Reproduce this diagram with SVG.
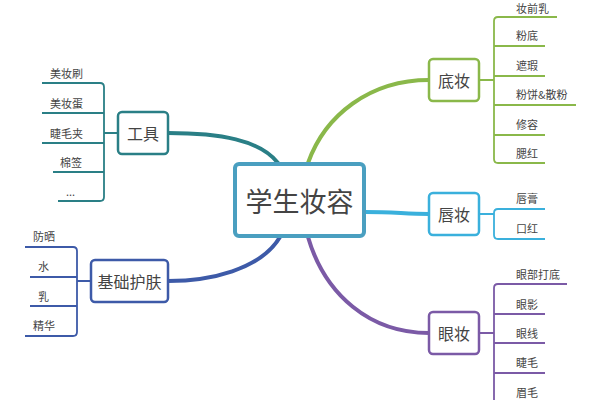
<svg xmlns="http://www.w3.org/2000/svg" width="600" height="400" viewBox="0 0 600 400">
<style>
text{font-family:"Noto Sans CJK SC","Noto Sans",sans-serif;fill:#444}
.leaf{font-size:11px}
.node{font-size:16px;text-anchor:middle;dominant-baseline:central}
.box{fill:#fff;stroke-width:2.5}
.br{fill:none;stroke-width:1.8}
.conn{fill:none;stroke-width:4;stroke-linecap:round}
</style>
<rect width="600" height="400" fill="#fff"/>
<g id="connectors">
<path class="conn" d="M168,133 C220,133 260,140 278,163" stroke="#2a7f86"/>
<path class="conn" d="M308,163 C325,115 370,80 429,80" stroke="#8ab84a"/>
<path class="conn" d="M365,212 C395,212 405,214 429,214" stroke="#3ab0dc"/>
<path class="conn" d="M308,237 C325,295 370,333 429,333" stroke="#7b5aa6"/>
<path class="conn" d="M280,237 C260,270 210,281 168,281" stroke="#3d5aa8"/>
<g stroke="#2a7f86" class="br"><path d="M104,133H118M42,83H100Q104,83 104,87V197Q104,201 100,201H58M42,113H104M42,143H104M53,172H104"/></g>
<g stroke="#8ab84a" class="br"><path d="M479,80H494M557,17H498Q494,17 494,21V159Q494,163 498,163H545M494,46H545M494,76H545M494,105H576M494,135H545"/></g>
<g stroke="#3ab0dc" class="br"><path d="M479,214H494M545,209H498Q494,209 494,213V235Q494,239 498,239H545"/></g>
<g stroke="#7b5aa6" class="br"><path d="M479,333H494M567,284H498Q494,284 494,288V402M494,314H545M494,343H545M494,373H545M494,402H545"/></g>
<g stroke="#3d5aa8" class="br"><path d="M77,281H91M25,247H73Q77,247 77,251V332Q77,336 73,336H25M30,277H77M30,306H77"/></g>
</g>
<g id="center"><rect x="235" y="164" width="129" height="72" rx="4" fill="#fff" stroke="#4a9fc0" stroke-width="4"/><text class="node" x="299.5" y="200" style="font-size:27px">学生妆容</text></g>
<g id="tools"><rect class="box" x="118" y="112" width="50" height="42" rx="4" stroke="#2a7f86"/><text class="node" x="143" y="133">工具</text></g>
<g id="base"><rect class="box" x="429" y="59" width="50" height="42" rx="4" stroke="#8ab84a"/><text class="node" x="454" y="80">底妆</text></g>
<g id="lip"><rect class="box" x="429" y="193" width="50" height="42" rx="4" stroke="#3ab0dc"/><text class="node" x="454" y="214">唇妆</text></g>
<g id="eye"><rect class="box" x="429" y="312" width="50" height="42" rx="4" stroke="#7b5aa6"/><text class="node" x="454" y="333">眼妆</text></g>
<g id="skin"><rect class="box" x="91" y="260" width="77" height="42" rx="4" stroke="#3d5aa8"/><text class="node" x="129.5" y="281">基础护肤</text></g>
<g id="leaves" class="leaf">
<text x="50" y="78">美妆刷</text>
<text x="50" y="108">美妆蛋</text>
<text x="50" y="138">睫毛夹</text>
<text x="60" y="167">棉签</text>
<text x="66" y="196">...</text>
<text x="516" y="13">妆前乳</text>
<text x="516" y="40">粉底</text>
<text x="516" y="70">遮瑕</text>
<text x="516" y="99">粉饼&amp;散粉</text>
<text x="516" y="129">修容</text>
<text x="516" y="158">腮红</text>
<text x="516" y="203">唇膏</text>
<text x="516" y="233">口红</text>
<text x="516" y="279">眼部打底</text>
<text x="516" y="309">眼影</text>
<text x="516" y="338">眼线</text>
<text x="516" y="367">睫毛</text>
<text x="516" y="397">眉毛</text>
<text x="33" y="241">防晒</text>
<text x="38" y="271">水</text>
<text x="38" y="301">乳</text>
<text x="33" y="330">精华</text>
</g>
</svg>
